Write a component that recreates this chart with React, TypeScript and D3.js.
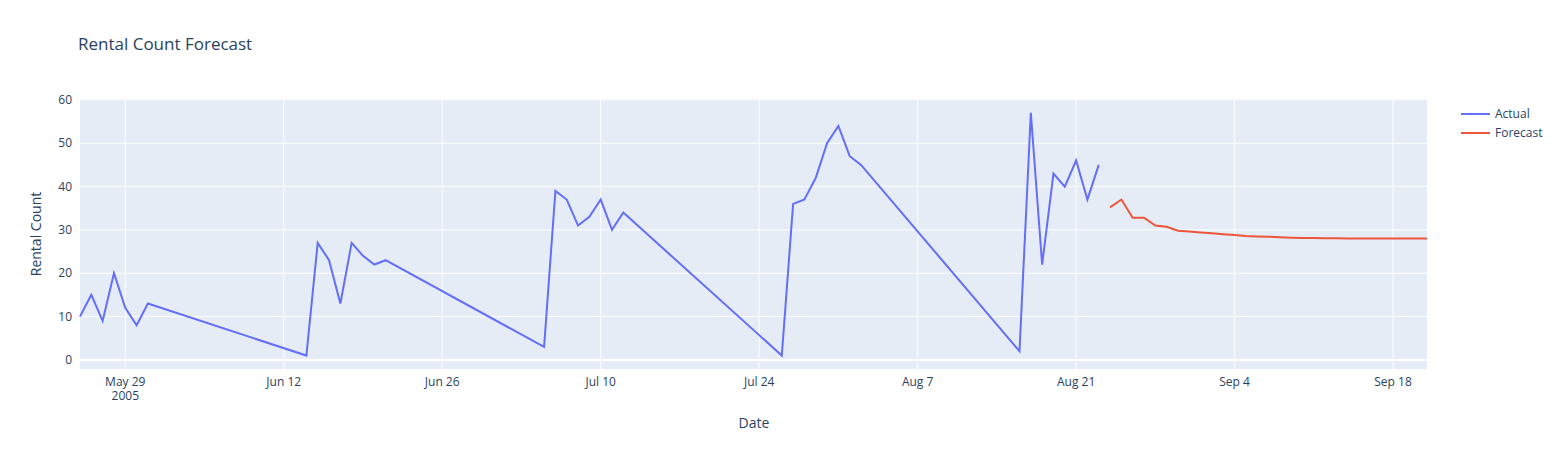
import React from 'react';
import * as d3 from 'd3';

const actualDates = [
  '2005-05-25', '2005-05-26', '2005-05-27', '2005-05-28', '2005-05-29', '2005-05-30', '2005-05-31',
  '2005-06-14', '2005-06-15', '2005-06-16', '2005-06-17', '2005-06-18', '2005-06-19', '2005-06-20', '2005-06-21',
  '2005-07-05', '2005-07-06', '2005-07-07', '2005-07-08', '2005-07-09', '2005-07-10', '2005-07-11', '2005-07-12',
  '2005-07-26', '2005-07-27', '2005-07-28', '2005-07-29', '2005-07-30', '2005-07-31', '2005-08-01', '2005-08-02',
  '2005-08-16', '2005-08-17', '2005-08-18', '2005-08-19', '2005-08-20', '2005-08-21', '2005-08-22', '2005-08-23',
];
const actualValues = [
  10, 15, 9, 20, 12, 8, 13,
  1, 27, 23, 13, 27, 24, 22, 23,
  3, 39, 37, 31, 33, 37, 30, 34,
  1, 36, 37, 42, 50, 54, 47, 45,
  2, 57, 22, 43, 40, 46, 37, 45,
];
const forecastStart = '2005-08-24';
const forecastValues = [
  35.2, 37, 32.8, 32.8, 31, 30.7, 29.8, 29.6, 29.4, 29.2, 29.0, 28.8, 28.6, 28.5, 28.4,
  28.3, 28.2, 28.15, 28.1, 28.08, 28.06, 28.04, 28.03, 28.02, 28.01, 28.0, 28.0, 28.0, 28.0,
];
const xTicks = ['2005-05-29', '2005-06-12', '2005-06-26', '2005-07-10', '2005-07-24', '2005-08-07', '2005-08-21', '2005-09-04', '2005-09-18'];
const yTicks = [0, 10, 20, 30, 40, 50, 60];

const parse = d3.utcParse('%Y-%m-%d');
const fmt = d3.utcFormat('%b %-d');
const font = '"Open Sans", "DejaVu Sans", sans-serif';
const ink = '#2a3f5f';

export default function App() {
  const W = 1560, H = 450;
  const L = 80, R = 1427, T = 99, B = 369;
  const fStart = parse(forecastStart)!;
  const actual = actualDates.map((d, i) => ({ d: parse(d)!, v: actualValues[i] }));
  const forecast = forecastValues.map((v, i) => ({ d: d3.utcDay.offset(fStart, i), v }));
  const x = d3.scaleUtc()
    .domain([parse('2005-05-25')!, forecast[forecast.length - 1].d])
    .range([L, R]);
  const y = d3.scaleLinear().domain([-2.1, 60.2]).range([B, T]);
  const line = d3.line<{ d: Date; v: number }>().x((p) => x(p.d)).y((p) => y(p.v));

  return (
    <svg width={W} height={H} style={{ display: 'block', margin: '-8px' }} fontFamily={font}>
      <rect width={W} height={H} fill="#fff" />
      <rect x={L} y={T} width={R - L} height={B - T} fill="#e5ecf6" />
      {xTicks.map((t) => (
        <line key={t} x1={x(parse(t)!)} x2={x(parse(t)!)} y1={T} y2={B} stroke="#fff" strokeWidth={1} />
      ))}
      {yTicks.map((t) => (
        <line key={t} x1={L} x2={R} y1={y(t)} y2={y(t)} stroke="#fff" strokeWidth={t === 0 ? 2 : 1} />
      ))}
      <path d={line(actual)!} fill="none" stroke="#636efa" strokeWidth={2} />
      <path d={line(forecast)!} fill="none" stroke="#ef553b" strokeWidth={2} />
      {xTicks.map((t, i) => (
        <text key={t} x={x(parse(t)!)} y={386} textAnchor="middle" fontSize={12} fill={ink}>
          {fmt(parse(t)!)}
          {i === 0 && <tspan x={x(parse(t)!)} dy={14}>2005</tspan>}
        </text>
      ))}
      {yTicks.map((t) => (
        <text key={t} x={72} y={y(t) + 4} textAnchor="end" fontSize={12} fill={ink}>{t}</text>
      ))}
      <text x={78} y={50} fontSize={17} fill={ink}>Rental Count Forecast</text>
      <text x={754} y={428} textAnchor="middle" fontSize={14} fill={ink}>Date</text>
      <text transform={`translate(41,${(T + B) / 2}) rotate(-90)`} textAnchor="middle" fontSize={14} fill={ink}>Rental Count</text>
      {[['Actual', '#636efa'], ['Forecast', '#ef553b']].map(([name, c], i) => (
        <g key={name} transform={`translate(1461,${114 + i * 19})`}>
          <line x1={0} x2={29} y1={0} y2={0} stroke={c} strokeWidth={2} />
          <text x={34} y={4} fontSize={12} fill={ink}>{name}</text>
        </g>
      ))}
    </svg>
  );
}
